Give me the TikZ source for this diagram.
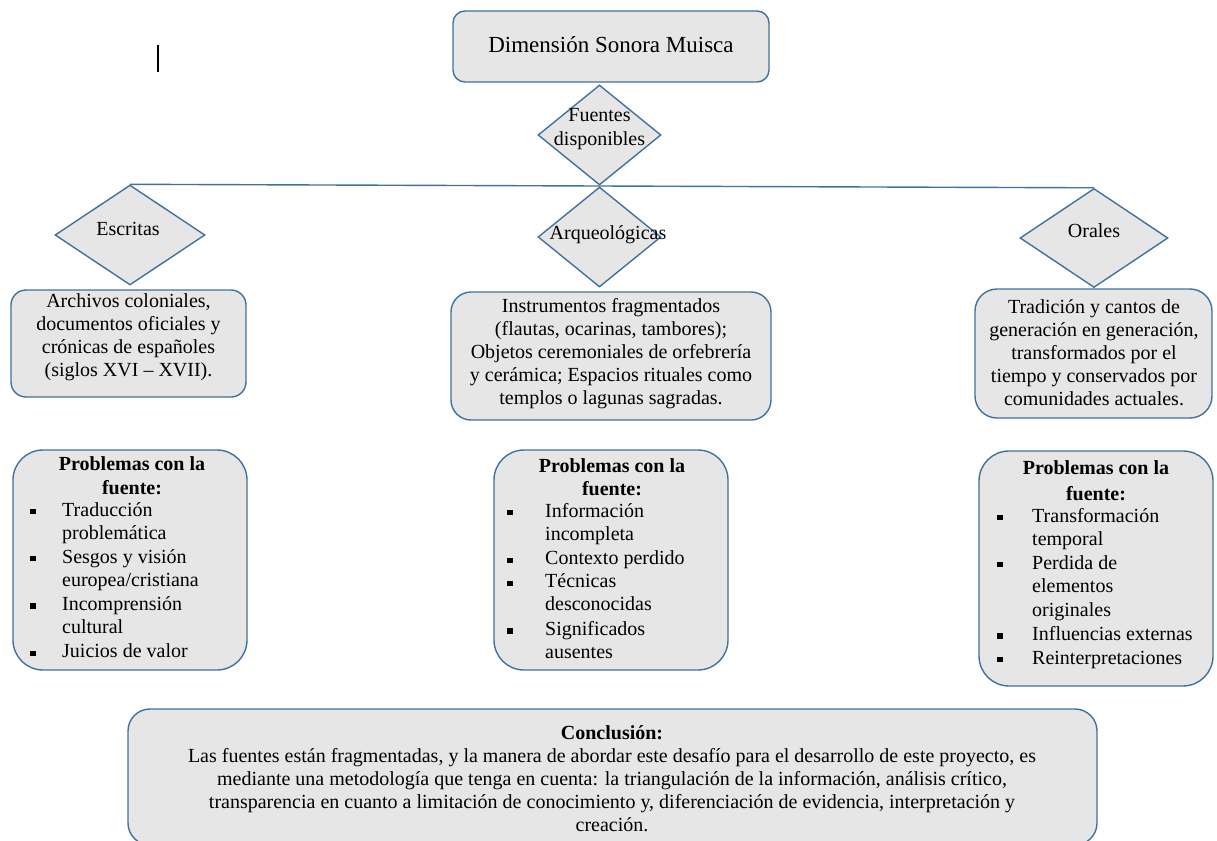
\documentclass[tikz,border=0pt]{standalone}
\usepackage{fontspec}
\setmainfont{Liberation Serif}
\usetikzlibrary{shapes.geometric}
\definecolor{bord}{HTML}{41719C}
\definecolor{fillg}{HTML}{E7E6E6}
\newcommand\bul{\rule[1.8pt]{5.5pt}{5.5pt}}
\tikzset{
  box/.style={draw=bord, fill=fillg, line width=1.4pt, rounded corners=#1, inner sep=0pt},
  box/.default=14pt,
  dia/.style={diamond, draw=bord, fill=fillg, line width=1.4pt, inner sep=0pt},
  txt/.style={align=center, inner sep=0pt, font=\fontsize{20}{23}\selectfont},
  htxt/.style={align=center, inner sep=0pt, font=\fontsize{20}{23.5}\selectfont\bfseries},
  ltxt/.style={inner sep=0pt, anchor=base west, font=\fontsize{20}{23}\selectfont},
  conn/.style={draw=bord, line width=1.4pt}
}
\begin{document}
\begin{tikzpicture}[x=1pt,y=-1pt]
\useasboundingbox (0,0) rectangle (1217,840);
% text cursor mark
\draw[line width=1.2pt] (158,45) coordinate (cur1) -- (158,72) coordinate (cur2);

% title
\node[box=12pt, minimum width=316pt, minimum height=71pt] (title) at (611,46.5) {};
\node[txt, font=\fontsize{23}{26}\selectfont] (titlet) at (611,45) {Dimensión Sonora Muisca};

% connector line
\node[dia, minimum width=150pt, minimum height=100pt] (esc) at (130,235) {};
\node[dia, minimum width=148pt, minimum height=99pt] (ora) at (1094,238) {};
\draw[conn] (esc.north) -- (ora.north);

% diamonds
\node[dia, minimum width=123pt, minimum height=100pt] (fue) at (599.5,135) {};
\node[txt, font=\fontsize{20}{24}\selectfont] (fuet) at (599.5,129) {Fuentes\\disponibles};
\node[dia, minimum width=123pt, minimum height=100pt] (arq) at (599.5,237) {};
\node[txt] (esct) at (128,229) {Escritas};
\node[txt] (arqt) at (608,235) {Arqueológicas};
\node[txt] (orat) at (1094,231) {Orales};

% source boxes
\node[box=15pt, minimum width=235pt, minimum height=107pt] (b1) at (128.5,343.5) {};
\node[txt] (b1t) at (128.5,337.5) {Archivos coloniales,\\documentos oficiales y\\crónicas de españoles\\(siglos XVI -- XVII).};
\node[box=20pt, minimum width=320pt, minimum height=128pt] (b2) at (611,356) {};
\node[txt] (b2t) at (611,354) {Instrumentos fragmentados\\(flautas, ocarinas, tambores);\\Objetos ceremoniales de orfebrería\\y cerámica; Espacios rituales como\\templos o lagunas sagradas.};
\node[box=22pt, minimum width=237pt, minimum height=129pt] (b3) at (1093.5,353.5) {};
\node[txt] (b3t) at (1094,352.5) {Tradición y cantos de\\generación en generación,\\transformados por el\\tiempo y conservados por\\comunidades actuales.};

% problem boxes
\node[box=30pt, minimum width=234pt, minimum height=220pt] (p1) at (130,560) {};
\node[htxt] (p1h) at (132,475.5) {Problemas con la\\fuente:};
\node[ltxt] (p1l) at (30,516) {\begin{tabular}[t]{@{}p{32pt}@{}l@{}}
\bul & Traducción\\ & problemática\\[1.2pt]
\bul & Sesgos y visión\\ & europea/cristiana\\[1.2pt]
\bul & Incomprensión\\ & cultural\\[1.5pt]
\bul & Juicios de valor
\end{tabular}};

\node[box=30pt, minimum width=234pt, minimum height=220pt] (p2) at (611,560) {};
\node[htxt] (p2h) at (612,477) {Problemas con la\\fuente:};
\node[ltxt] (p2l) at (507,517) {\begin{tabular}[t]{@{}p{38pt}@{}l@{}}
\bul & Información\\ & incompleta\\[1.8pt]
\bul & Contexto perdido\\
\bul & Técnicas\\ & desconocidas\\[1.8pt]
\bul & Significados\\ & ausentes
\end{tabular}};

\node[box=30pt, minimum width=234pt, minimum height=235pt] (p3) at (1096,568.5) {};
\node[htxt, font=\fontsize{20}{26}\selectfont\bfseries] (p3h) at (1096,481) {Problemas con la\\fuente:};
\node[ltxt, font=\fontsize{20}{23.5}\selectfont] (p3l) at (997,522) {\begin{tabular}[t]{@{}p{35pt}@{}l@{}}
\bul & Transformación\\ & temporal\\
\bul & Perdida de\\ & elementos\\ & originales\\[1pt]
\bul & Influencias externas\\
\bul & Reinterpretaciones
\end{tabular}};

% conclusion
\node[box=22pt, minimum width=969pt, minimum height=136pt] (con) at (612.5,777) {};
\node[txt] (cont) at (612,778.5) {\textbf{Conclusión:}\\Las fuentes están fragmentadas, y la manera de abordar este desafío para el desarrollo de este proyecto, es\\mediante una metodología que tenga en cuenta: la triangulación de la información, análisis crítico,\\transparencia en cuanto a limitación de conocimiento y, diferenciación de evidencia, interpretación y\\creación.};
\end{tikzpicture}
\end{document}
